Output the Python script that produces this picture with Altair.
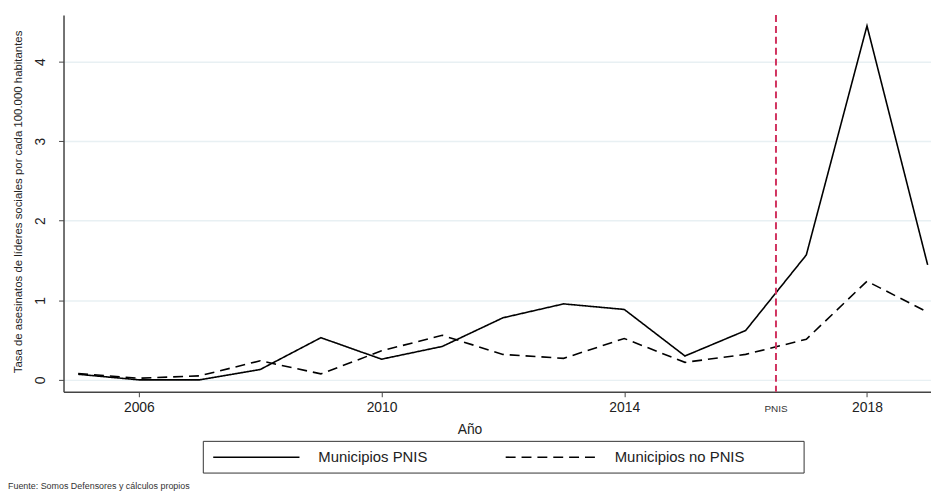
import altair as alt
import pandas as pd

years = list(range(2005, 2020))
pnis = [0.07, 0.0, 0.0, 0.13, 0.53, 0.26, 0.42, 0.78, 0.955, 0.885, 0.30, 0.62, 1.57, 4.45, 1.445]
no_pnis = [0.08, 0.02, 0.05, 0.24, 0.075, 0.365, 0.56, 0.32, 0.27, 0.52, 0.22, 0.32, 0.51, 1.24, 0.85]
series = ["Municipios PNIS", "Municipios no PNIS"]
y_ticks = [0, 1, 2, 3, 4]
x_ticks = [2006, 2010, 2014, 2018]
pnis_year = [2016.5]
y_title = "Tasa de asesinatos de líderes sociales por cada 100.000 habitantes"
x_title = "Año"
source_text = "Fuente: Somos Defensores y cálculos propios"

FONT = "Liberation Sans"

df = pd.DataFrame({
    "year": years * 2,
    "value": pnis + no_pnis,
    "serie": [series[0]] * len(years) + [series[1]] * len(years),
})

xscale = alt.Scale(domain=[2004.758, 2019.055], nice=False, zero=False)
yscale = alt.Scale(domain=[-0.15, 4.586], nice=False, zero=False)

lines = alt.Chart(df).mark_line(color="black", strokeWidth=1.6).encode(
    x=alt.X("year:Q", scale=xscale,
            axis=alt.Axis(values=x_ticks, format="d", title=None, grid=False,
                          tickSize=5, labelFontSize=14, labelPadding=4,
                          domainColor="#444", tickColor="#444", labelColor="#222",
                          labelFont=FONT, domainWidth=1.5)),
    y=alt.Y("value:Q", scale=yscale,
            axis=alt.Axis(values=y_ticks, title=y_title, labelAngle=270,
                          labelAlign="center", labelBaseline="bottom",
                          labelFontSize=14, labelPadding=11, tickSize=5,
                          grid=True, gridColor="#e8f0f3", gridWidth=1.5,
                          domainColor="#444", tickColor="#444", labelColor="#222",
                          labelFont=FONT, titleFont=FONT, titleFontSize=11.5,
                          titleFontWeight="normal", titleColor="#222",
                          titleX=-40, titleY=188, titleAngle=270,
                          domainWidth=1.5)),
    strokeDash=alt.StrokeDash("serie:N",
                              scale=alt.Scale(domain=series, range=[[1, 0], [10, 6]]),
                              legend=None),
    detail="serie:N",
)

vline = alt.Chart(pd.DataFrame({"year": pnis_year})).mark_rule(
    color="#d1335f", strokeWidth=2, strokeDash=[7, 4]
).encode(x=alt.X("year:Q", scale=xscale), y=alt.value(0), y2=alt.value(380))

vlabel = alt.Chart(pd.DataFrame({"year": pnis_year, "t": ["PNIS"]})).mark_text(
    font=FONT, fontSize=10, color="#333", baseline="middle"
).encode(x=alt.X("year:Q", scale=xscale), y=alt.value(397), text="t:N")

xtitle = alt.Chart(pd.DataFrame({"t": [x_title]})).mark_text(
    font=FONT, fontSize=14, color="#222", baseline="middle"
).encode(x=alt.value(410), y=alt.value(419), text="t:N")

box = alt.Chart(pd.DataFrame({"a": [0]})).mark_rect(
    fill="white", stroke="#333", strokeWidth=1
).encode(x=alt.value(141), x2=alt.value(747), y=alt.value(430), y2=alt.value(462))

leg1 = alt.Chart(pd.DataFrame({"a": [0]})).mark_rule(color="black", strokeWidth=1.6).encode(
    x=alt.value(151), x2=alt.value(238), y=alt.value(446))
leg2 = alt.Chart(pd.DataFrame({"a": [0]})).mark_rule(color="black", strokeWidth=1.6,
                                                     strokeDash=[10, 6]).encode(
    x=alt.value(446), x2=alt.value(541), y=alt.value(446))
legt1 = alt.Chart(pd.DataFrame({"t": [series[0]]})).mark_text(
    font=FONT, fontSize=15, color="#222", align="left", baseline="middle"
).encode(x=alt.value(257), y=alt.value(446), text="t:N")
legt2 = alt.Chart(pd.DataFrame({"t": [series[1]]})).mark_text(
    font=FONT, fontSize=15, color="#222", align="left", baseline="middle"
).encode(x=alt.value(556), y=alt.value(446), text="t:N")

src = alt.Chart(pd.DataFrame({"t": [source_text]})).mark_text(
    font=FONT, fontSize=9, color="#333", align="left", baseline="middle"
).encode(x=alt.value(-56), y=alt.value(475), text="t:N")

chart = alt.layer(lines, vline, vlabel, xtitle, box, leg1, leg2, legt1, legt2, src).properties(
    width=875, height=380,
    autosize=alt.AutoSizeParams(type="none"),
    padding={"left": 56, "top": 5, "right": 0, "bottom": 101},
    background="white",
).configure_view(stroke=None)

chart.save("out.html", embed_options={"renderer": "svg", "actions": False})
